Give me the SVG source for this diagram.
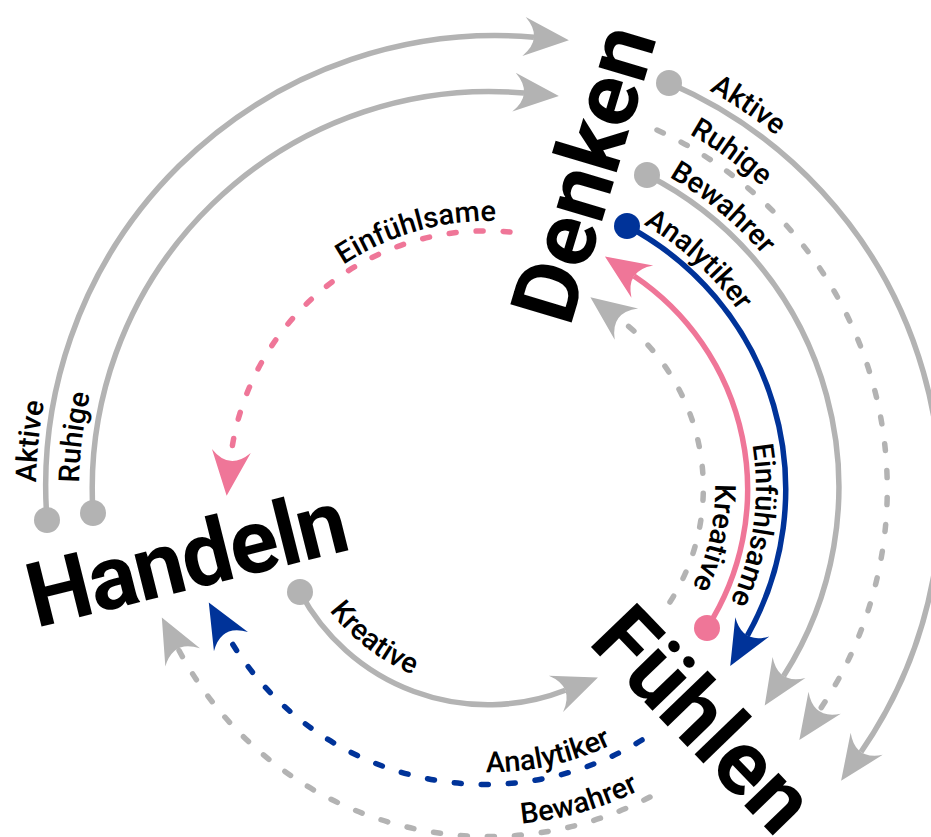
<svg xmlns="http://www.w3.org/2000/svg" width="931" height="837" viewBox="0 0 931 837">
<style>
.big{font-family:Roboto,"Liberation Sans",sans-serif;font-weight:700;font-size:90px;fill:#000}
.lbl{font-family:Roboto,"Liberation Sans",sans-serif;font-weight:500;font-size:29px;fill:#000}
.arc{fill:none;stroke-width:5.5}
.gray{stroke:#b3b3b3}
.blue{stroke:#003399}
.pink{stroke:#ef7698}
.dash{stroke-dasharray:7 20;stroke-linecap:round}
.dg{fill:#b3b3b3}
.db{fill:#003399}
.dp{fill:#ef7698}
</style>
<defs>
<marker id="ahg" viewBox="-12 -22 50 44" refX="0" refY="0" markerWidth="50" markerHeight="44" markerUnits="userSpaceOnUse" orient="auto"><path d="M35,0 L-10,-19.5 Q10,0 -10,19.5 Z" fill="#b3b3b3"/></marker>
<marker id="ahb" viewBox="-12 -22 50 44" refX="0" refY="0" markerWidth="50" markerHeight="44" markerUnits="userSpaceOnUse" orient="auto"><path d="M35,0 L-10,-19.5 Q10,0 -10,19.5 Z" fill="#003399"/></marker>
<marker id="ahp" viewBox="-12 -22 50 44" refX="0" refY="0" markerWidth="50" markerHeight="44" markerUnits="userSpaceOnUse" orient="auto"><path d="M35,0 L-10,-19.5 Q10,0 -10,19.5 Z" fill="#ef7698"/></marker>
<path id="p1" d="M163.4,172.6 A454,454 0 0 1 904.7,672.6"/>
<path id="p2" d="M206.4,197.4 A406,406 0 0 1 855.8,664.1"/>
<path id="p3" d="M257.8,214.2 A359,359 0 0 1 801.8,665.9"/>
<path id="p4" d="M303.9,246.3 A305,305 0 0 1 747.5,651.4"/>
<path id="p5" d="M572.2,235.0 A266,266 0 0 1 499.3,753.8"/>
<path id="p6" d="M576.1,280.1 A225,225 0 0 1 480.2,712.8"/>
<path id="p7" d="M366.4,924.8 A454,454 0 0 1 456.8,35.2"/>
<path id="p8" d="M369.8,881.0 A411,411 0 0 1 468.5,77.6"/>
<path id="p9" d="M224.5,515.9 A267,267 0 0 1 730.0,370.9"/>
<path id="p10" d="M311.0,394.4 A202,202 0 0 0 626.2,637.2"/>
<path id="p11" d="M227.2,595.8 A284,284 0 0 0 773.8,476.6"/>
<path id="p12" d="M186.6,634.7 A337,337 0 0 0 825.3,453.9"/>
</defs>
<rect width="931" height="837" fill="#fff"/>
<g id="connectors">
<path class="arc gray" d="M669,83 A450,450 0 0 1 861,752" marker-end="url(#ahg)"/>
<path class="arc gray dash" d="M657,130 A395,395 0 0 1 819,711" marker-end="url(#ahg)"/>
<path class="arc gray" d="M647,175 A350,350 0 0 1 783.6,676" marker-end="url(#ahg)"/>
<path class="arc blue" d="M627,226 A298,298 0 0 1 747.4,635.6" marker-end="url(#ahb)"/>
<path class="arc pink" d="M707,628 A257,257 0 0 0 634,276" marker-end="url(#ahp)"/>
<path class="arc gray dash" d="M670,602 A212,212 0 0 0 618.4,318.2" marker-end="url(#ahg)"/>
<path class="arc gray" d="M47,520 A450,450 0 0 1 534,37.3" marker-end="url(#ahg)"/>
<path class="arc gray" d="M93,513 A397,397 0 0 1 524,93" marker-end="url(#ahg)"/>
<path class="arc pink dash" d="M510,232 A257,257 0 0 0 230.3,461" marker-end="url(#ahp)"/>
<path class="arc gray" d="M300,592 A213,213 0 0 0 565.3,690.2" marker-end="url(#ahg)"/>
<path class="arc blue dash" d="M642,740 A298,298 0 0 1 226,633" marker-end="url(#ahb)"/>
<path class="arc gray dash" d="M650,797 A350,350 0 0 1 178,648.5" marker-end="url(#ahg)"/>
<circle class="dg" cx="669" cy="83" r="13"/>
<circle class="dg" cx="647" cy="175" r="13"/>
<circle class="db" cx="627" cy="226" r="13"/>
<circle class="dp" cx="707" cy="628" r="13"/>
<circle class="dg" cx="47" cy="520" r="13"/>
<circle class="dg" cx="93" cy="513" r="13"/>
<circle class="dg" cx="300" cy="592" r="13"/>
<text class="lbl"><textPath href="#p1" startOffset="50%" text-anchor="middle">Aktive</textPath></text>
<text class="lbl"><textPath href="#p2" startOffset="50%" text-anchor="middle">Ruhige</textPath></text>
<text class="lbl"><textPath href="#p3" startOffset="50%" text-anchor="middle">Bewahrer</textPath></text>
<text class="lbl"><textPath href="#p4" startOffset="50%" text-anchor="middle">Analytiker</textPath></text>
<text class="lbl"><textPath href="#p5" startOffset="50%" text-anchor="middle">Einfühlsame</textPath></text>
<text class="lbl"><textPath href="#p6" startOffset="50%" text-anchor="middle">Kreative</textPath></text>
<text class="lbl"><textPath href="#p7" startOffset="50%" text-anchor="middle">Aktive</textPath></text>
<text class="lbl"><textPath href="#p8" startOffset="50%" text-anchor="middle">Ruhige</textPath></text>
<text class="lbl"><textPath href="#p9" startOffset="50%" text-anchor="middle">Einfühlsame</textPath></text>
<text class="lbl"><textPath href="#p10" startOffset="50%" text-anchor="middle">Kreative</textPath></text>
<text class="lbl"><textPath href="#p11" startOffset="50%" text-anchor="middle">Analytiker</textPath></text>
<text class="lbl"><textPath href="#p12" startOffset="50%" text-anchor="middle">Bewahrer</textPath></text>
</g>
<g id="denken"><text class="big" transform="translate(570,328) rotate(-73.3)">Denken</text></g>
<g id="fuehlen"><text class="big" transform="translate(587,643) rotate(46)">Fühlen</text></g>
<g id="handeln"><text class="big" transform="translate(36,628) rotate(-14)" letter-spacing="-1.5">Handeln</text></g>
</svg>
